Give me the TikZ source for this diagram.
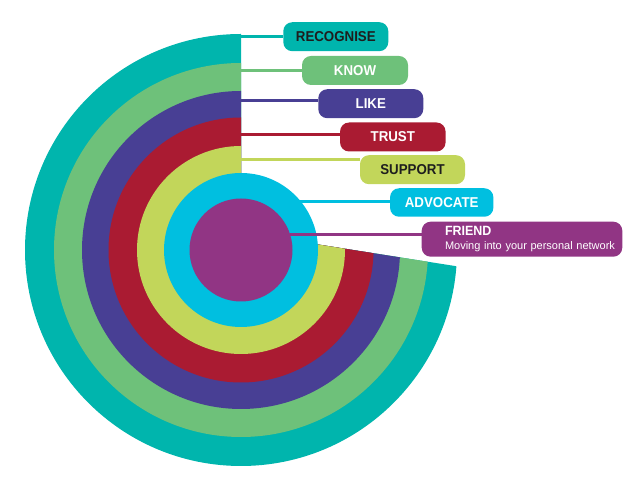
\documentclass[tikz,border=0pt]{standalone}
\usepackage{fontspec}
\setmainfont{Liberation Sans}
\newfontfamily\stagefont{Liberation Sans}[FakeStretch=0.93]
\usetikzlibrary{positioning}
\definecolor{ringTeal}{RGB}{0,181,173}
\definecolor{ringGreen}{RGB}{110,193,122}
\definecolor{ringBlue}{RGB}{72,63,148}
\definecolor{ringRed}{RGB}{170,27,50}
\definecolor{ringLime}{RGB}{194,214,90}
\definecolor{ringCyan}{RGB}{0,191,224}
\definecolor{ringPurple}{RGB}{145,53,132}
\definecolor{labelDark}{RGB}{30,30,30}

\begin{document}
\begin{tikzpicture}[x=1pt, y=1pt,
        stage/.style={rectangle, rounded corners=9pt, minimum width=105pt, minimum height=29pt, inner sep=0pt, align=center, font=\stagefont\fontsize{14.3}{16}\selectfont\bfseries},
        link/.style={line width=3pt}
    ]
        \useasboundingbox (0,0) rectangle (639,486);
        \coordinate (c) at (241,236);

        % Outer rings, open on the upper right
        \begin{scope}
            \clip (0,0) -- (0,486) -- (241,486) -- (241,253.6) -- (639,191.1) -- (639,0) -- cycle;
            \fill[ringTeal] (c) circle (216pt);
            \fill[ringGreen] (c) circle (187pt);
            \fill[ringBlue] (c) circle (159pt);
            \fill[ringRed] (c) circle (132.5pt);
            \fill[ringLime] (c) circle (104pt);
        \end{scope}

        % Inner circles
        \fill[ringCyan] (c) circle (77pt);
        \fill[ringPurple] (c) circle (51.5pt);

        % Stages
        \node[stage, fill=ringTeal, text=labelDark] (recognise) at (335.8,449.3) {RECOGNISE};
        \node[stage, fill=ringGreen, text=white, minimum width=106pt] (know) at (355,415.5) {KNOW};
        \node[stage, fill=ringBlue, text=white] (like) at (370.8,382.3) {LIKE};
        \node[stage, fill=ringRed, text=white, minimum width=105.5pt] (trust) at (392.8,349) {TRUST};
        \node[stage, fill=ringLime, text=labelDark] (support) at (412.5,316.3) {SUPPORT};
        \node[stage, fill=ringCyan, text=white, minimum width=103.3pt, minimum height=28.5pt] (advocate) at (441.7,283.5) {ADVOCATE};
        \node[stage, fill=ringPurple, text=white, minimum width=200.6pt, minimum height=35pt, text width=189pt, inner xsep=5.8pt, align=left, font=\fontsize{11}{14.3}\selectfont] (friend) at (522,246.8)
            {\hspace*{17.5pt}{\stagefont\fontsize{13.4}{14.3}\selectfont\bfseries FRIEND}\\\hspace*{17.5pt}Moving into your personal network};

        % Connectors
        \coordinate (recognisePt) at (241,449.7);
        \coordinate (knowPt) at (241,415);
        \coordinate (likePt) at (241,385);
        \coordinate (trustPt) at (241,351);
        \coordinate (supportPt) at (241,326);
        \coordinate (advocatePt) at (299.5,284.3);
        \coordinate (friendPt) at (290,251.7);
        \draw[link, ringTeal] (recognisePt) -- (recognisePt -| recognise.west);
        \draw[link, ringGreen] (knowPt) -- (knowPt -| know.west);
        \draw[link, ringBlue] (likePt) -- (likePt -| like.west);
        \draw[link, ringRed] (trustPt) -- (trustPt -| trust.west);
        \draw[link, ringLime] (supportPt) -- (supportPt -| support.west);
        \draw[link, ringCyan] (advocatePt) -- (advocatePt -| advocate.west);
        \draw[link, ringPurple] (friendPt) -- (friendPt -| friend.west);
    \end{tikzpicture}
\end{document}
